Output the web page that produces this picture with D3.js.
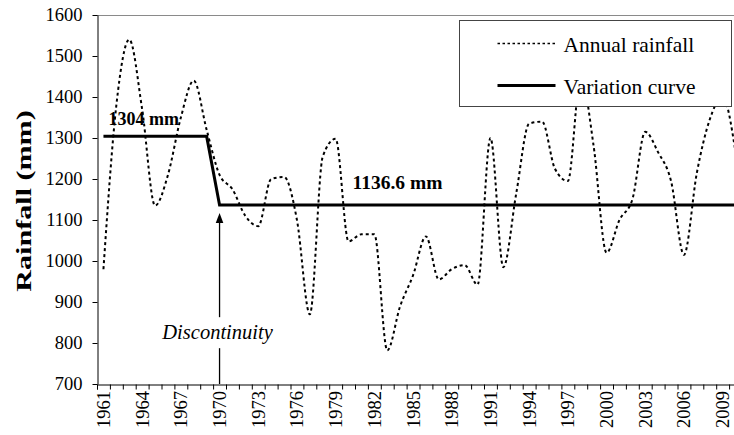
<!DOCTYPE html>
<html>
<head>
<meta charset="utf-8">
<script src="https://cdn.jsdelivr.net/npm/d3@7"></script>
<style>
  body { margin: 0; background: #fff; }
  svg { display: block; }
</style>
</head>
<body>
<script>
// categories and series
const years = d3.range(1961, 2011);
const rainfall = [
   980, 1380, 1540, 1370, 1135, 1210, 1350, 1440, 1320, 1210,
  1175, 1110, 1085, 1200, 1205, 1100,  870, 1255, 1298, 1048,
  1065, 1065,  782,  890,  965, 1060,  955,  980,  990,  942,
  1300,  985, 1165, 1335, 1340, 1225, 1195, 1450, 1280, 1020,
  1100, 1150, 1315, 1265, 1195, 1015, 1215, 1345, 1400, 1265
];
const shiftYears = [1961, 1969, 1970, 2010];
const shiftValues = [1304, 1304, 1136.6, 1136.6];
const yTicks = [700, 800, 900, 1000, 1100, 1200, 1300, 1400, 1500, 1600];
const yearLabels = [1961, 1964, 1967, 1970, 1973, 1976, 1979, 1982, 1985, 1988,
                    1991, 1994, 1997, 2000, 2003, 2006, 2009];
const legendLabels = ["Annual rainfall", "Variation curve"];

const width = 734,
      height = 435;
const serif = "Liberation Serif, Times New Roman, DejaVu Serif, serif";

const svg = d3.select("body")
    .append("svg")
    .attr("width", width)
    .attr("height", height)
    .attr("font-family", serif);

const x = d3.scaleBand()
    .domain(years)
    .range([97, 97 + years.length * 12.9]);
const cx = d => x(d) + x.bandwidth() / 2;

const xEdge = d3.scaleLinear()
    .domain([1961, 2011])
    .range(x.range());

const y = d3.scaleLinear()
    .domain([700, 1600])
    .range([384, 15]);

// top border of plot area
svg.append("line")
    .attr("x1", 97).attr("x2", width)
    .attr("y1", 15.5).attr("y2", 15.5)
    .attr("stroke", "#8a8a8a");

// y axis
svg.append("g")
    .attr("transform", "translate(97.5,0)")
    .call(d3.axisLeft(y).tickValues(yTicks).tickSize(5).tickSizeOuter(0).tickFormat(d3.format("d")))
    .call(g => g.attr("font-family", serif))
    .call(g => g.selectAll("text")
        .attr("x", -15)
        .attr("fill", "#000")
        .attr("font-family", serif)
        .attr("font-size", 18.5));

// x axis tick marks on band edges
svg.append("g")
    .attr("transform", "translate(0,384.5)")
    .call(d3.axisBottom(xEdge).tickValues(d3.range(1961, 2012)).tickSize(5).tickFormat(""));

svg.append("g")
    .selectAll("text")
    .data(yearLabels)
    .join("text")
    .attr("transform", d => `translate(${cx(d)},391) rotate(-90)`)
    .attr("dy", "0.35em")
    .attr("text-anchor", "end")
    .attr("font-family", serif)
    .attr("font-size", 18.5)
    .text(d => d);

svg.append("text")
    .attr("transform", "translate(23,201) rotate(-90) scale(1.4,1)")
    .attr("dy", "0.35em")
    .attr("text-anchor", "middle")
    .attr("font-family", serif)
    .attr("font-size", 21.5)
    .attr("font-weight", "bold")
    .text("Rainfall (mm)");

// series
const rainLine = d3.line()
    .x((d, i) => cx(years[i]))
    .y(d => y(d))
    .curve(d3.curveMonotoneX);

svg.append("path")
    .datum(rainfall)
    .attr("fill", "none")
    .attr("stroke", "#000")
    .attr("stroke-width", 2)
    .attr("stroke-dasharray", "3,3")
    .attr("d", rainLine);

const shiftLine = d3.line()
    .x((d, i) => cx(shiftYears[i]))
    .y(d => y(d));

svg.append("path")
    .datum(shiftValues)
    .attr("fill", "none")
    .attr("stroke", "#000")
    .attr("stroke-width", 3)
    .attr("d", shiftLine);

// mean labels
svg.append("text")
    .attr("x", cx(1961) + 5)
    .attr("y", y(1304) - 11)
    .attr("font-family", serif)
    .attr("font-size", 18)
    .attr("font-weight", "bold")
    .text("1304 mm");

svg.append("text")
    .attr("x", cx(1980) + 4)
    .attr("y", y(1136.6) - 16)
    .attr("font-family", serif)
    .attr("font-size", 19.5)
    .attr("font-weight", "bold")
    .text("1136.6 mm");

// discontinuity arrow
const ax = cx(1970),
      tip = y(1136.6) + 8;

svg.append("line")
    .attr("x1", ax).attr("x2", ax)
    .attr("y1", 384).attr("y2", tip + 6)
    .attr("stroke", "#000")
    .attr("stroke-width", 1.3);

svg.append("path")
    .attr("d", `M${ax},${tip}L${ax - 3.8},${tip + 10}L${ax + 3.8},${tip + 10}Z`)
    .attr("fill", "#000");

const note = svg.append("g")
    .attr("transform", `translate(${ax - 2},332)`);
const noteText = note.append("text")
    .attr("dy", "0.35em")
    .attr("text-anchor", "middle")
    .attr("font-family", serif)
    .attr("font-size", 20.5)
    .attr("font-style", "italic")
    .text("Discontinuity");
const bb = noteText.node().getBBox();
note.insert("rect", "text")
    .attr("x", bb.x - 2).attr("y", bb.y - 4)
    .attr("width", bb.width + 4).attr("height", bb.height + 8)
    .attr("fill", "#fff");

// legend
const legend = svg.append("g")
    .attr("transform", "translate(459.5,20.5)");

legend.append("rect")
    .attr("width", 272)
    .attr("height", 86)
    .attr("fill", "#fff")
    .attr("stroke", "#444");

const rows = legend.selectAll("g.row")
    .data(legendLabels)
    .join("g")
    .attr("class", "row")
    .attr("transform", (d, i) => `translate(0,${23 + i * 42})`);

rows.append("line")
    .attr("x1", 38).attr("x2", 96)
    .attr("stroke", "#000")
    .attr("stroke-width", (d, i) => i ? 3 : 1.4)
    .attr("stroke-dasharray", (d, i) => i ? null : "2.5,2.5");

rows.append("text")
    .attr("x", 104)
    .attr("y", 8.5)
    .attr("font-family", serif)
    .attr("font-size", 21.5)
    .text(d => d);
</script>
</body>
</html>
